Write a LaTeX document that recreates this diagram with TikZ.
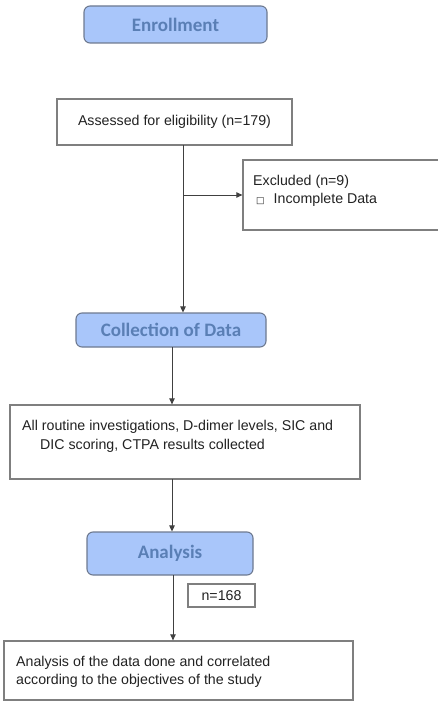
\documentclass[tikz,border=0pt]{standalone}
\usepackage{fontspec}
\setmainfont{Liberation Sans}
\newfontfamily\hdfont{Carlito}
\newfontfamily\symfont{DejaVu Sans}
\usetikzlibrary{arrows.meta}
\definecolor{hdfill}{HTML}{A9C6FA}
\definecolor{hdline}{HTML}{6E7A90}
\definecolor{hdtext}{HTML}{5A7FB5}
\definecolor{boxline}{HTML}{7F7F7F}
\definecolor{txtc}{HTML}{222222}
\begin{document}
\begin{tikzpicture}[x=1pt,y=-1pt,
  hdbox/.style={draw=hdline, line width=1.1pt, fill=hdfill, rounded corners=6pt, inner sep=0pt,
     font=\hdfont\bfseries\fontsize{19}{22}\selectfont, text=hdtext},
  plainbox/.style={draw=boxline, line width=1.3pt, fill=white, inner sep=0pt},
  txt/.style={inner sep=0pt, text=txtc, font=\fontsize{14.2}{18.5}\selectfont, align=left},
  conn/.style={draw=black!75, line width=0.9pt},
  arr/.style={conn, -{Triangle[length=6pt,width=5.5pt]}}]
\useasboundingbox (0,0) rectangle (438,701);
% boxes
\node[hdbox, minimum width=183pt, minimum height=37pt] (enroll) at (175.5,24.5) {Enrollment};
\node[plainbox, minimum width=235pt, minimum height=46pt, txt, draw=boxline, line width=1.3pt] (assess) at (174.5,122) {Assessed for eligibility (n=179)};
\node[plainbox, minimum width=196pt, minimum height=70pt] (excl) at (341,195) {};
\node[txt, anchor=north west] (exclT) at (253,175) {Excluded (n=9)\\\hspace*{3pt}{\symfont\fontsize{9}{9}\selectfont □}\hspace{9pt}Incomplete Data};
\node[hdbox, minimum width=190pt, minimum height=34pt] (coll) at (171,330) {Collection of Data};
\node[plainbox, minimum width=350pt, minimum height=74pt] (data) at (185,442) {};
\node[txt, anchor=north west, font=\fontsize{14.2}{19}\selectfont] (dataT) at (22,420) {All routine investigations, D-dimer levels, SIC and\\\hspace*{18pt}DIC scoring, CTPA results collected};
\node[hdbox, minimum width=166pt, minimum height=43pt] (anal) at (170,553.5) {Analysis};
\node[plainbox, minimum width=67pt, minimum height=23pt, txt, draw=boxline, line width=1.3pt] (n168) at (221.5,595.5) {n=168};
\node[plainbox, minimum width=349pt, minimum height=59pt] (result) at (178.5,670.5) {};
\node[txt, anchor=north west] (resT) at (16,656) {Analysis of the data done and correlated\\according to the objectives of the study};
% connectors
\coordinate (a1) at (183,145);
\draw[arr] (a1) -- (a1 |- coll.north);
\draw[arr] (a1 |- excl.west) -- (excl.west);
\coordinate (c1) at (172,347);
\draw[arr] (c1) -- (c1 |- data.north);
\coordinate (d1) at (172,479);
\draw[arr] (d1) -- (d1 |- anal.north);
\coordinate (e1) at (173,575);
\draw[arr] (e1) -- (e1 |- result.north);
\end{tikzpicture}
\end{document}
